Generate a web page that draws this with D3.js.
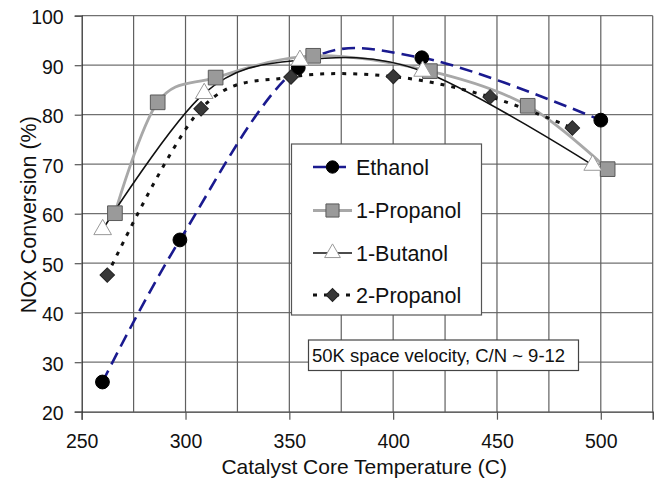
<!DOCTYPE html>
<html><head><meta charset="utf-8">
<script src="https://cdn.jsdelivr.net/npm/d3@7"></script>
<style>body{margin:0;background:#fff}svg{display:block}text{font-family:"Liberation Sans",Arial,sans-serif;fill:#111}</style>
</head><body>
<svg id="c" width="659" height="488"></svg>
<script>
const xTicks = [250, 300, 350, 400, 450, 500];
const yTicks = [20, 30, 40, 50, 60, 70, 80, 90, 100];
const xGrid = [275, 300, 325, 350, 375, 400, 425, 450, 475, 500, 525];

const ethanolT = [260, 297.3, 354.3, 413.8, 500];
const ethanolN = [26.0, 54.7, 89.5, 91.5, 78.9];
const prop1T = [266, 286.6, 314.5, 361.5, 417.7, 464.8, 503.3];
const prop1N = [60.1, 82.5, 87.5, 91.9, 88.8, 81.8, 69.0];
const butT = [260.1, 309.0, 355.1, 414.2, 496.1];
const butN = [56.8, 84.3, 91.0, 88.8, 69.8];
const prop2T = [262.3, 307.5, 350.8, 400.1, 446.7, 486.3];
const prop2N = [47.6, 81.2, 87.6, 87.7, 83.6, 77.3];

const seriesNames = ["Ethanol", "1-Propanol", "1-Butanol", "2-Propanol"];
const annotation = "50K space velocity, C/N ~ 9-12";

const svg = d3.select("#c");
const x = d3.scaleLinear().domain([250, 525]).range([81.7, 652.7]);
const y = d3.scaleLinear().domain([20, 100]).range([411.7, 15.7]);

// grid
const g = svg.append("g");
g.selectAll(".hg").data(yTicks.filter(v => v > 20)).enter().append("line")
  .attr("x1", x(250)).attr("x2", x(525)).attr("y1", d => y(d)).attr("y2", d => y(d))
  .attr("stroke", "#707070").attr("stroke-width", 1.2);
g.selectAll(".vg").data(xGrid).enter().append("line")
  .attr("x1", d => x(d)).attr("x2", d => x(d)).attr("y1", y(20)).attr("y2", y(100))
  .attr("stroke", "#606060").attr("stroke-width", 1.2);

// axes
const xa = svg.append("g").attr("transform", `translate(0,${y(20)})`)
  .call(d3.axisBottom(x).tickValues(xTicks).tickSize(8).tickPadding(14).tickFormat(d3.format("d")));
const ya = svg.append("g").attr("transform", `translate(${x(250)},0)`)
  .call(d3.axisLeft(y).tickValues(yTicks).tickSize(7).tickPadding(11).tickFormat(d3.format("d")));
[xa, ya].forEach(a => {
  a.select(".domain").attr("stroke", "#333").attr("stroke-width", 1.3);
  a.selectAll(".tick line").attr("stroke", "#555").attr("stroke-width", 1.2);
  a.selectAll(".tick text").style("font-size", "19.5px").attr("fill", "#111");
});
ya.selectAll(".tick text").attr("dy", "0.42em");

svg.append("text").attr("x", x(387.5) - 3).attr("y", 474).attr("text-anchor", "middle")
  .style("font-size", "21px").text("Catalyst Core Temperature (C)");
svg.append("text").attr("transform", `translate(36,${y(60) + 1}) rotate(-90)`).attr("text-anchor", "middle")
  .style("font-size", "21.5px").text("NOx Conversion (%)");

const line = d3.line().x(d => x(d[0])).y(d => y(d[1])).curve(d3.curveCardinal.tension(0));
const zip = (a, b) => a.map((v, i) => [v, b[i]]);

const styles = [
  {stroke: "#1a1a8f", w: 2.6, dash: "13,7", sym: d3.symbolCircle, size: 150, rot: 0, fill: "#000", sc: "#000"},
  {stroke: "#a8a8a8", w: 2.8, dash: null, sym: d3.symbolSquare, size: 215, rot: 0, fill: "#9a9a9a", sc: "#5a5a5a"},
  {stroke: "#111", w: 1.6, dash: null, sym: d3.symbolTriangle, size: 135, rot: 0, fill: "#fff", sc: "#999"},
  {stroke: "#111", w: 3, dash: "4,7", sym: d3.symbolSquare, size: 105, rot: 45, fill: "#383838", sc: "#222"}
];
const data = [zip(ethanolT, ethanolN), zip(prop1T, prop1N), zip(butT, butN), zip(prop2T, prop2N)];

data.forEach((pts, i) => {
  const s = styles[i];
  svg.append("path").attr("d", line(pts)).attr("fill", "none")
    .attr("stroke", s.stroke).attr("stroke-width", s.w).attr("stroke-dasharray", s.dash);
});
data.forEach((pts, i) => {
  const s = styles[i];
  svg.append("g").selectAll("path").data(pts).enter().append("path")
    .attr("d", d3.symbol().type(s.sym).size(s.size))
    .attr("transform", d => `translate(${x(d[0])},${y(d[1])}) rotate(${s.rot})`)
    .attr("fill", s.fill).attr("stroke", s.sc).attr("stroke-width", 1);
});

// legend
const lg = svg.append("g");
lg.append("rect").attr("x", 291.5).attr("y", 144).attr("width", 190).attr("height", 171)
  .attr("fill", "#fff").attr("stroke", "#555").attr("stroke-width", 1.2);
const ly = [167, 210.5, 253, 295];
seriesNames.forEach((n, i) => {
  const s = styles[i];
  lg.append("line").attr("x1", 313).attr("x2", 352).attr("y1", ly[i]).attr("y2", ly[i])
    .attr("stroke", s.stroke).attr("stroke-width", s.w).attr("stroke-dasharray", s.dash);
  lg.append("path").attr("d", d3.symbol().type(s.sym).size(s.size * 0.8))
    .attr("transform", `translate(332.5,${ly[i]}) rotate(${s.rot})`)
    .attr("fill", s.fill).attr("stroke", s.sc).attr("stroke-width", 1);
  lg.append("text").attr("x", 356).attr("y", ly[i] + 7.5).style("font-size", "21.5px").text(n);
});

// annotation
svg.append("rect").attr("x", 308.5).attr("y", 340).attr("width", 270).attr("height", 30.5)
  .attr("fill", "#fff").attr("stroke", "#444").attr("stroke-width", 1.2);
svg.append("text").attr("x", 312).attr("y", 361.5).style("font-size", "18.5px").text(annotation);
</script>
</body></html>
